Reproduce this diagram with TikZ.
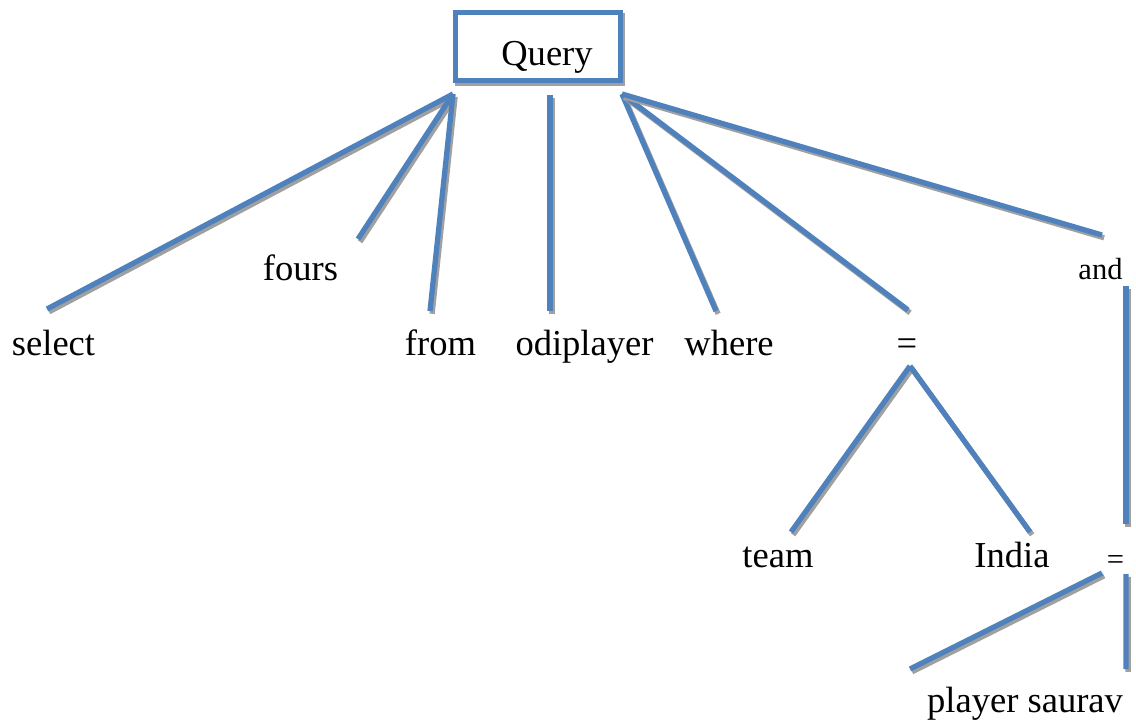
\documentclass[tikz,border=0pt]{standalone}
\usepackage{fontspec}
\setmainfont{Liberation Serif}
\usepackage{xcolor}
\definecolor{treeblue}{RGB}{79,129,189}
\definecolor{treeshade}{RGB}{160,160,160}
\usetikzlibrary{positioning}

\begin{document}
\begin{tikzpicture}[
    x=0.02cm, y=-0.02cm,
    every node/.style={font=\fontsize{20.8}{24}\selectfont, inner sep=0pt, outer sep=0pt},
    small/.style={font=\fontsize{17.4}{20}\selectfont},
    word/.style={anchor=base, text=black},
    shade/.style={preaction={draw=treeshade, line width=3pt,
                  transform canvas={xshift=1.2pt, yshift=-1.6pt}}},
    edge/.style={draw=treeblue, line width=3pt, shade},
    qbox/.style={draw=treeblue, line width=3pt, fill=white, shade,
                 minimum width=3.3cm, minimum height=1.36cm},
]
\useasboundingbox (0,0) rectangle (1136,720);

% ---- Root box ----
\node[qbox] (query) at (538,46.5) {};
\node[word] (querytxt) at (547,65) {Query};

% ---- First level ----
\node[word] (select)    at (53.5,355) {select};
\node[word] (fours)     at (300.5,280) {fours};
\node[word] (from)      at (440.5,355) {from};
\node[word] (odiplayer) at (584.5,355) {odiplayer};
\node[word] (where)     at (729,355) {where};
\node[word] (eqone)     at (907,355) {=};
\node[word, small] (and) at (1100.5,279) {and};

% ---- Lower levels ----
\node[word] (team)  at (778,567) {team};
\node[word] (india) at (1012,567) {India};
\node[word, small] (eqtwo) at (1115.5,569.5) {=};
\node[word] (player) at (1025,712) {player saurav};

% ---- Edges from the root ----
\draw[edge] ([shift={(-2.5,13.5)}]query.south west) -- ([shift={(-6.5,-46)}]select.base);
\draw[edge] ([shift={(-2.5,13.5)}]query.south west) -- ([shift={(57.5,-41)}]fours.base);
\draw[edge] ([shift={(-2.5,13.5)}]query.south west) -- ([shift={(-10.5,-44)}]from.base);
\draw[edge] ([shift={(12,14.5)}]query.south) -- ([shift={(-34.5,-44)}]odiplayer.base);
\draw[edge] ([shift={(1.5,13.5)}]query.south east) -- ([shift={(-13,-44)}]where.base);
\draw[edge] ([shift={(1.5,13.5)}]query.south east) -- ([shift={(1,-45)}]eqone.base);
\draw[edge] ([shift={(1.5,13.5)}]query.south east) -- ([shift={(1.5,-44)}]and.base);

% ---- where clause ----
\draw[edge] ([shift={(3,11)}]eqone.base) -- ([shift={(13,-35)}]team.base);
\draw[edge] ([shift={(3,11)}]eqone.base) -- ([shift={(18,-35)}]india.base);

% ---- and clause ----
\draw[edge] ([shift={(25.5,7)}]and.base) -- ([shift={(10.5,-45.5)}]eqtwo.base);
\draw[edge] ([shift={(-13.5,3.5)}]eqtwo.base) -- ([shift={(-115,-43)}]player.base);
\draw[edge] ([shift={(10.5,4.5)}]eqtwo.base) -- ([shift={(101,-43)}]player.base);

\end{tikzpicture}
\end{document}
